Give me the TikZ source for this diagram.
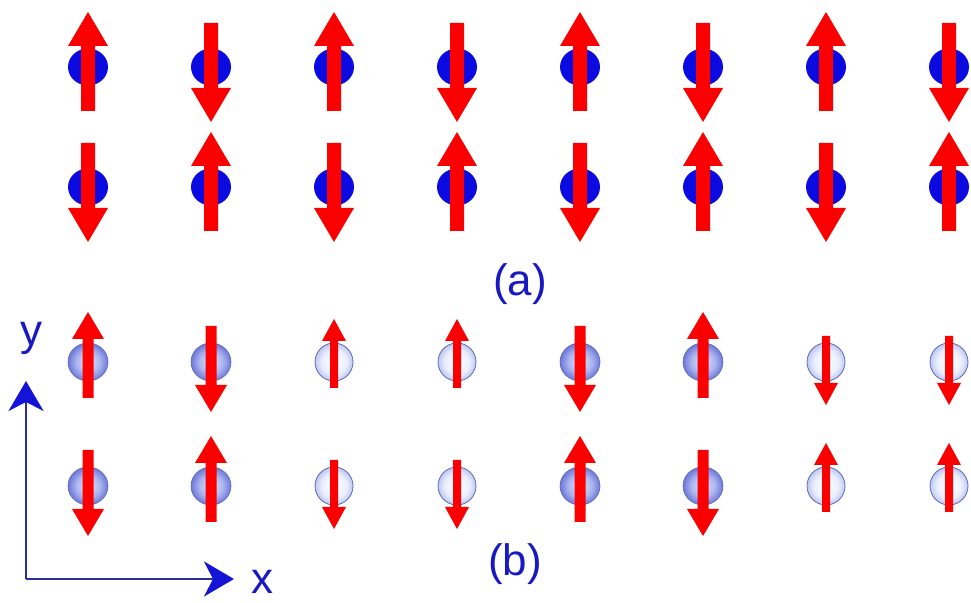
\documentclass[tikz,border=0pt]{standalone}
\usepackage{fontspec}
\setmainfont{Liberation Sans}
\usetikzlibrary{arrows.meta}
\definecolor{spinred}{RGB}{250,0,0}
\definecolor{atomblue}{RGB}{10,10,225}
\definecolor{labelblue}{RGB}{25,25,195}
\definecolor{axisline}{RGB}{45,45,150}
\definecolor{axishead}{RGB}{20,20,215}
\definecolor{ballin}{RGB}{225,229,253}
\definecolor{ballmid}{RGB}{170,180,240}
\definecolor{ballout}{RGB}{110,120,212}
\definecolor{ballrim}{RGB}{90,100,195}
\definecolor{palemid}{RGB}{235,239,253}
\definecolor{paleout}{RGB}{190,200,242}
\definecolor{palerim}{RGB}{95,105,180}
\pgfdeclareradialshading{ballB}{\pgfpoint{0bp}{0bp}}{color(0bp)=(ballin); color(15bp)=(ballmid); color(25bp)=(ballout); color(50bp)=(ballout)}
\pgfdeclareradialshading{ballC}{\pgfpoint{0bp}{0bp}}{color(0bp)=(white); color(16bp)=(palemid); color(25bp)=(paleout); color(50bp)=(paleout)}
\tikzset{
  pics/spinA/.style={code={
    \fill[atomblue] (0,0) ellipse [x radius=20pt, y radius=18.5pt];
    \fill[spinred] (-7,-44) -- (-7,21) -- (-20,21) -- (0,55) -- (20,21) -- (7,21) -- (7,-44) -- cycle;
  }},
  pics/spinB/.style={code={
    \shade[shading=ballB] (0,0) ellipse [x radius=20pt, y radius=19pt];
    \draw[ballrim, line width=0.6pt] (0,0) ellipse [x radius=20pt, y radius=19pt];
    \fill[spinred] (-5.5,-36) -- (-5.5,23) -- (-16,23) -- (0,50) -- (16,23) -- (5.5,23) -- (5.5,-36) -- cycle;
  }},
  pics/spinC/.style={code={
    \shade[shading=ballC] (0,0) ellipse [x radius=19pt, y radius=19pt];
    \draw[palerim, line width=0.8pt] (0,0) ellipse [x radius=19pt, y radius=19pt];
    \fill[spinred] (-4,-26) -- (-4,21) -- (-12,21) -- (0,43) -- (12,21) -- (4,21) -- (4,-26) -- cycle;
  }},
  lbl/.style={text=labelblue, inner sep=0pt, font=\fontsize{44}{48}\selectfont},
  axis/.style={draw=axisline, line width=2pt,
    -{Stealth[length=30pt, width=35pt, inset=9pt, color=axishead]}},
}
\begin{document}
\begin{tikzpicture}[x=1pt, y=1pt]
\useasboundingbox (0,0) rectangle (971,602);
\clip (0,0) rectangle (971,602);
% (a) antiferromagnetic lattice
\foreach \i in {0,...,7} {
  \pic[rotate={180*mod(\i,2)}] at ({88+123*\i},535) {spinA};
  \pic[rotate={180*mod(\i+1,2)}] at ({88+123*\i},415) {spinA};
}
% (b) modulated lattice
\foreach \i/\t/\r in {0/spinB/0, 1/spinB/180, 2/spinC/0, 3/spinC/0, 4/spinB/180, 5/spinB/0, 6/spinC/180, 7/spinC/180} {
  \pic[rotate=\r] at ({88+123*\i},240) {\t};
  \pic[rotate=\r+180] at ({88+123*\i},116) {\t};
}
\node[lbl, anchor=base] (la) at (520,306) {(a)};
\node[lbl, anchor=base] (lb) at (515,27) {(b)};
% axes
\coordinate (o) at (26,23);
\coordinate (ytip) at (26,221);
\coordinate (xtip) at (234,23);
\draw[axis] (o) -- (ytip);
\draw[axis] (o) -- (xtip);
\node[lbl, anchor=base] (lx) at (262,9) {x};
\node[lbl, anchor=base] (ly) at (31,256) {y};
\end{tikzpicture}
\end{document}
